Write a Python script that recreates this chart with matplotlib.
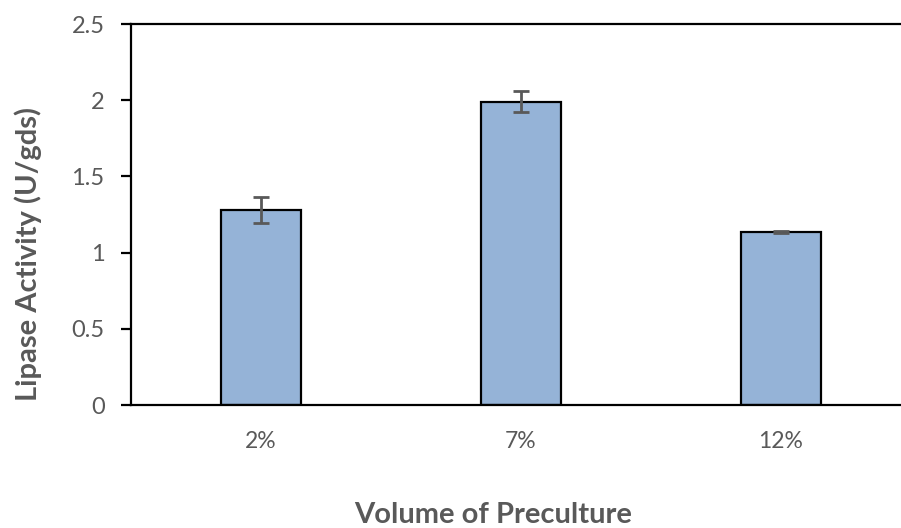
import numpy as np
import matplotlib.pyplot as plt

categories = ["2%", "7%", "12%"]
activity = [1.28, 1.99, 1.135]
errors = [0.085, 0.07, 0.005]

plt.rcParams["font.family"] = ["Lato", "DejaVu Sans"]

fig = plt.figure(figsize=(9.01, 5.28), dpi=100)
ax = fig.add_axes([131 / 901, 123 / 528, 780 / 901, 381 / 528])

x = np.arange(len(categories))
ax.bar(x, activity, width=0.31, color="#95B3D7", edgecolor="black", linewidth=1.6, zorder=2)
ax.errorbar(x, activity, yerr=errors, fmt="none", ecolor="#595959", elinewidth=2,
            capsize=6, capthick=2, zorder=3)

ax.set_xlim(-0.5, 2.5)
ax.set_ylim(0, 2.5)
ax.set_yticks([0, 0.5, 1, 1.5, 2, 2.5])
ax.set_yticklabels(["0", "0.5", "1", "1.5", "2", "2.5"])
ax.set_xticks(x)
ax.set_xticklabels(categories)

for side in ["left", "bottom", "top", "right"]:
    ax.spines[side].set_linewidth(1.6)
    ax.spines[side].set_color("black")

ax.tick_params(axis="y", direction="out", length=7, width=1.6, colors="black",
               labelcolor="#595959", labelsize=17, pad=12)
ax.tick_params(axis="x", length=0, labelcolor="#595959", labelsize=16.5, pad=19)

ax.set_ylabel("Lipase Activity (U/gds)", fontsize=21, fontweight="bold", color="#595959")
ax.yaxis.set_label_coords(-0.132, 0.396)
ax.yaxis.label.set_va("center")
ax.set_xlabel("Volume of Preculture", fontsize=21, fontweight="bold", color="#595959")
ax.xaxis.set_label_coords(0.464, -0.289)
ax.xaxis.label.set_va("center")

fig.savefig("out.png", dpi=100)
